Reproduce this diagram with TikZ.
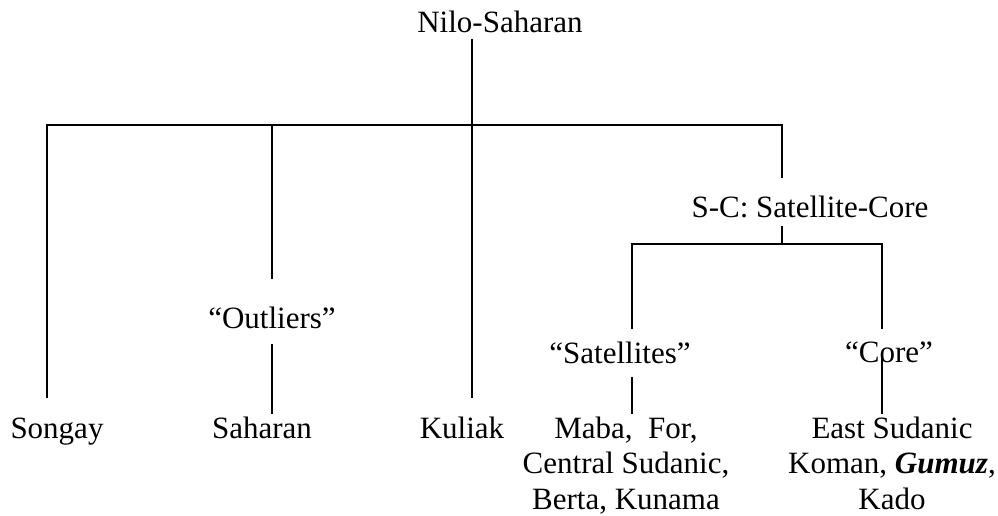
\documentclass[tikz,border=0pt]{standalone}
\usepackage{fontspec}
\setmainfont{Liberation Serif}
\begin{document}
\begin{tikzpicture}[x=1pt,y=-1pt,
  conn/.style={line width=1.4pt, line join=miter, line cap=rect},
  lbl/.style={inner sep=0pt, anchor=base, font=\fontsize{31}{35.5}\selectfont, align=center}]
\useasboundingbox (0,0) rectangle (998,515);
% labels
\node[lbl] (nilo) at (500,32) {Nilo-Saharan};
\node[lbl] (sc) at (810,217) {S-C: Satellite-Core};
\node[lbl] (outl) at (272,328) {“Outliers”};
\node[lbl] (sats) at (620,363) {“Satellites”};
\node[lbl] (core) at (889,362) {“Core”};
\node[lbl] (songay) at (57,438) {Songay};
\node[lbl] (saharan) at (262,438) {Saharan};
\node[lbl] (kuliak) at (462,438) {Kuliak};
\node[lbl] (satlist) at (626,509) {Maba,\ \ For,\\Central Sudanic,\\Berta, Kunama};
\node[lbl] (corelist) at (892,509) {East Sudanic\\Koman, \textbf{\textit{Gumuz}},\\Kado};
% junction coordinates
\coordinate (n0) at (472,40);
\coordinate (j0) at (472,125);
\coordinate (jl) at (47,125);
\coordinate (jr) at (782,125);
\coordinate (e1) at (47,397);
\coordinate (e2) at (272,278);
\coordinate (j2) at (272,125);
\coordinate (e3) at (472,397);
\coordinate (e4) at (782,177);
\coordinate (s0) at (782,227);
\coordinate (s1) at (782,244);
\coordinate (sl) at (632,244);
\coordinate (sr) at (882,244);
\coordinate (sle) at (632,328);
\coordinate (sre) at (882,328);
\coordinate (o0) at (272,345);
\coordinate (o1) at (272,413);
\coordinate (a0) at (632,378);
\coordinate (a1) at (632,413);
\coordinate (c0) at (882,355);
\coordinate (c1) at (882,413);
% connectors
\draw[conn] (n0) -- (j0);
\draw[conn] (e1) -- (jl) -- (jr) -- (e4);
\draw[conn] (j2) -- (e2);
\draw[conn] (j0) -- (e3);
\draw[conn] (s0) -- (s1);
\draw[conn] (sle) -- (sl) -- (sr) -- (sre);
\draw[conn] (o0) -- (o1);
\draw[conn] (a0) -- (a1);
\draw[conn] (c0) -- (c1);
\end{tikzpicture}
\end{document}
